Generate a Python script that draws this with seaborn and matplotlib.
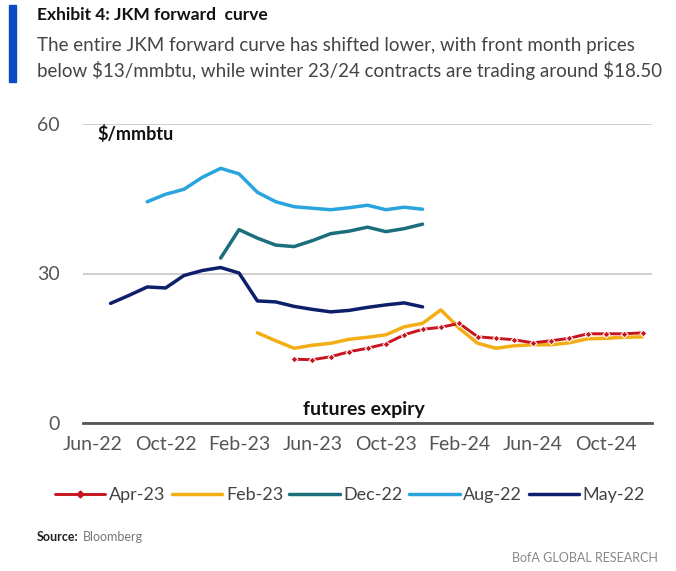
import matplotlib
matplotlib.use("Agg")
import matplotlib.pyplot as plt
from matplotlib.patches import Rectangle
from matplotlib.lines import Line2D
import numpy as np
import pandas as pd
import seaborn as sns

# Futures expiry months on the x axis (Jun-22 .. Dec-24)
expiry = pd.date_range("2022-06-01", "2024-12-01", freq="MS")
tick_labels = ["Jun-22", "Oct-22", "Feb-23", "Jun-23", "Oct-23", "Feb-24", "Jun-24", "Oct-24"]

# JKM forward curves ($/mmbtu) by pricing date, first expiry month and values
curve_names = ["Apr-23", "Feb-23", "Dec-22", "Aug-22", "May-22"]
apr23_start = "2023-05"
apr23 = [12.8, 12.7, 13.3, 14.3, 15.0, 15.9, 17.7, 18.8, 19.2, 20.0,
         17.3, 17.0, 16.7, 16.1, 16.5, 17.0, 17.9, 17.9, 17.9, 18.1]
feb23_start = "2023-03"
feb23 = [18.1, 16.5, 15.0, 15.6, 16.0, 16.8, 17.2, 17.7, 19.3, 20.0, 22.7,
         19.0, 16.0, 15.0, 15.5, 15.7, 15.7, 16.1, 16.9, 17.0, 17.2, 17.3]
dec22_start = "2023-01"
dec22 = [33.1, 38.8, 37.1, 35.7, 35.4, 36.6, 38.0, 38.5, 39.3, 38.4, 39.0, 39.9]
aug22_start = "2022-09"
aug22 = [44.4, 45.9, 46.9, 49.3, 51.1, 50.0, 46.3, 44.4, 43.4, 43.1, 42.8,
         43.2, 43.7, 42.8, 43.3, 42.9]
may22_start = "2022-07"
may22 = [24.0, 25.6, 27.3, 27.1, 29.6, 30.6, 31.2, 30.1, 24.5, 24.3, 23.4,
         22.8, 22.3, 22.6, 23.2, 23.7, 24.1, 23.3]

colors = ["#C8141E", "#F2AE14", "#1B6F7C", "#29A4DC", "#0D1F6B"]

curves = {
    "Apr-23": (apr23_start, apr23),
    "Feb-23": (feb23_start, feb23),
    "Dec-22": (dec22_start, dec22),
    "Aug-22": (aug22_start, aug22),
    "May-22": (may22_start, may22),
}

rows = []
for name, (start, vals) in curves.items():
    i0 = list(expiry).index(pd.Timestamp(start + "-01"))
    for k, v in enumerate(vals):
        rows.append({"curve": name, "pos": i0 + k, "price": v})
df = pd.DataFrame(rows)

sns.set_theme(style="white")
plt.rcParams["font.family"] = ["Lato", "DejaVu Sans"]
plt.rcParams["text.parse_math"] = False

W, H = 676, 571
fig = plt.figure(figsize=(W / 100, H / 100), dpi=100)
ax = fig.add_axes([83 / W, 1 - 423 / H, (652 - 83) / W, (423 - 124) / H])

sns.lineplot(data=df, x="pos", y="price", hue="curve", hue_order=curve_names,
             palette=colors, linewidth=2.5, legend=False, ax=ax)
lines = ax.lines[:len(curve_names)]
lines[0].set_marker("D")
lines[0].set_markersize(3.5)
lines[0].set_linewidth(2.1)
lines[0].set_zorder(3)

ax.set_xlim(-0.5, len(expiry) - 0.5)
ax.set_ylim(0, 60)
ax.set_yticks([0, 30, 60])
ax.set_xticks(np.arange(0, len(expiry), 4))
ax.set_xticklabels(tick_labels)
ax.tick_params(axis="both", length=0, labelsize=14, colors="#555555")
ax.tick_params(axis="y", pad=17)
ax.tick_params(axis="x", pad=9)
ax.set_xlabel("")
ax.set_ylabel("")
for s in ["left", "right", "top"]:
    ax.spines[s].set_visible(False)
ax.spines["bottom"].set_color("#555555")
ax.spines["bottom"].set_linewidth(2.0)
ax.yaxis.grid(True, color="#CFCFCF", linewidth=1.4)
ax.set_axisbelow(True)

fig.text(97 / W, 1 - 134 / H, "$/mmbtu", fontsize=13, fontweight="bold",
         color="#111111", va="center", ha="left")
fig.text(364 / W, 1 - 410 / H, "futures expiry", fontsize=14, fontweight="bold",
         color="#111111", ha="center", va="center")

handles = [Line2D([], [], color=c, lw=2.5) for c in colors]
handles[0] = Line2D([], [], color=colors[0], lw=2.1, marker="D", markersize=3.5)
fig.legend(handles, curve_names, loc="center", bbox_to_anchor=(350 / W, 1 - 495 / H),
           ncol=5, frameon=False, fontsize=13, handlelength=2.8, handletextpad=0.2,
           columnspacing=0.35, labelcolor="#444444", borderpad=0.1)

# Header
fig.patches.append(Rectangle((9 / W, 1 - 82 / H), 7 / W, 77 / H,
                             transform=fig.transFigure, color="#0A4BC4"))
fig.text(37 / W, 1 - 15 / H, "Exhibit 4: JKM forward  curve", fontsize=12.5,
         fontweight="bold", color="#111111", va="center", ha="left")
fig.text(37 / W, 1 - 45 / H,
         "The entire JKM forward curve has shifted lower, with front month prices",
         fontsize=13.5, color="#444444", va="center", ha="left")
fig.text(37 / W, 1 - 70 / H,
         "below $13/mmbtu, while winter 23/24 contracts are trading around $18.50",
         fontsize=13.5, color="#444444", va="center", ha="left")

# Footer
src = fig.text(37 / W, 1 - 537 / H, "Source:", fontsize=9, fontweight="bold",
               color="#222222", va="center", ha="left")
plt.annotate("Bloomberg", xy=(1, 0.5), xycoords=src, xytext=(3, 0),
             textcoords="offset points", fontsize=9, color="#777777",
             va="center", ha="left")
fig.text(658 / W, 1 - 558 / H, "BofA GLOBAL RESEARCH", fontsize=9,
         color="#888888", va="center", ha="right")

fig.savefig("out.png", dpi=100, facecolor="white")
